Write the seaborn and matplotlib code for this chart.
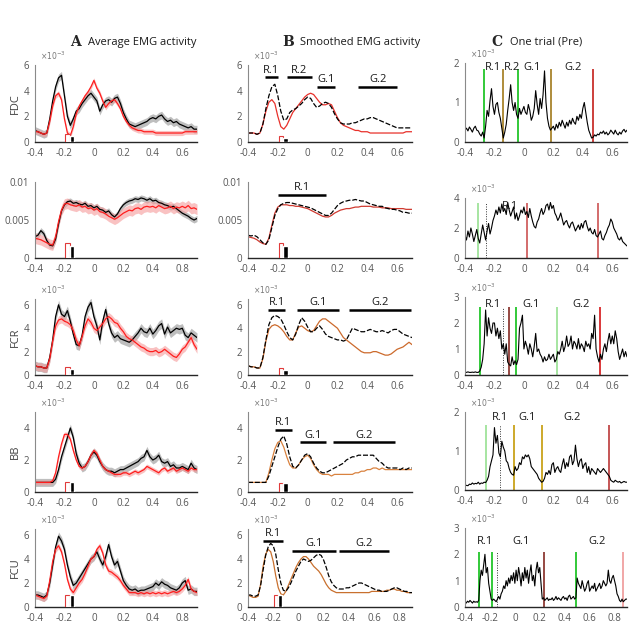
import numpy as np
import seaborn as sns
import matplotlib.pyplot as plt

sns.set_style("white")
plt.rcParams['font.family'] = ['Open Sans', 'DejaVu Sans']

# time grids (s) of the sampled traces
t_avg = np.round(np.arange(-0.40, 0.701, 0.02), 2)      # 56 samples
t_avg_long = np.round(np.arange(-0.40, 0.901, 0.02), 2)  # 66 samples
t_trial = np.round(np.arange(-0.40, 0.701, 0.01), 2)     # 111 samples
t_trial_long = np.round(np.arange(-0.40, 0.901, 0.01), 2)  # 131 samples

muscles = ["FDC", "ECR", "FCR", "BB", "FCU"]
ylabels_shown = ["FDC", "", "FCR", "BB", "FCU"]

# ---------------- A: average EMG (x1e-3), black = pre, red = post ----------------
fdc_black = [0.9, 0.8, 0.7, 0.6, 0.7, 1.8, 3.2, 4.3, 5.0, 5.2,
             3.6, 2.0, 1.3, 1.8, 2.4, 2.6, 3.0, 3.3, 3.6, 3.8,
             3.5, 3.2, 2.4, 2.9, 3.2, 3.3, 3.1, 3.4, 3.5, 3.0,
             2.3, 1.8, 1.4, 1.3, 1.2, 1.3, 1.4, 1.5, 1.6, 1.8,
             1.9, 1.8, 2.0, 2.1, 1.8, 1.6, 1.7, 1.5, 1.6, 1.4,
             1.3, 1.2, 1.1, 1.2, 1.0, 1.0]
fdc_red = [0.8, 0.8, 0.7, 0.6, 0.7, 1.6, 2.8, 3.6, 3.8, 3.3,
           1.8, 0.7, 0.5, 1.2, 2.2, 2.8, 3.2, 3.6, 3.9, 4.3,
           4.8, 4.2, 3.8, 3.2, 2.7, 3.0, 3.2, 3.3, 3.0, 2.6,
           2.0, 1.6, 1.3, 1.1, 1.0, 0.9, 0.9, 0.8, 0.8, 0.8,
           0.8, 0.7, 0.7, 0.7, 0.7, 0.7, 0.7, 0.7, 0.7, 0.7,
           0.7, 0.8, 0.8, 0.8, 0.8, 0.8]
ecr_black = [2.8, 3.0, 3.6, 3.2, 2.3, 1.7, 1.6, 2.5, 4.5, 6.2,
             7.0, 7.4, 7.5, 7.2, 7.3, 7.1, 7.0, 7.2, 6.8, 6.9,
             6.6, 6.8, 6.4, 6.3, 6.0, 6.2, 5.7, 5.4, 5.8, 6.5,
             7.0, 7.3, 7.5, 7.6, 7.8, 7.7, 7.9, 7.8, 7.6, 7.8,
             7.5, 7.6, 7.3, 7.2, 7.0, 6.9, 6.7, 6.8, 6.5, 6.2,
             5.9, 5.7, 5.5, 5.2, 5.0, 5.2]
ecr_red = [2.6, 2.5, 2.4, 2.2, 2.0, 1.8, 1.7, 2.8, 4.8, 6.3,
           7.1, 7.2, 7.0, 6.9, 6.8, 7.0, 6.7, 6.8, 6.5, 6.6,
           6.3, 6.5, 6.1, 6.0, 5.8, 5.5, 5.3, 5.1, 5.3, 5.6,
           5.9, 6.1, 6.3, 6.2, 6.5, 6.6, 6.4, 6.7, 6.8, 6.7,
           6.8, 6.6, 6.9, 6.7, 6.5, 6.6, 6.8, 6.5, 6.7, 6.6,
           6.8, 6.6, 6.9, 6.5, 6.6, 6.4]
fcr_black = [0.8, 0.7, 0.7, 0.6, 0.6, 1.5, 3.0, 5.0, 6.0, 5.2,
             5.0, 5.5, 4.6, 3.5, 2.6, 2.5, 3.4, 5.0, 5.8, 6.2,
             5.0, 4.2, 3.0, 4.6, 5.6, 4.4, 3.6, 3.2, 3.4, 3.1,
             3.0, 2.9, 2.8, 3.0, 3.3, 3.6, 4.0, 3.7, 3.6, 4.0,
             3.5, 3.8, 4.2, 4.4, 3.5, 4.1, 3.6, 3.8, 4.0, 3.9,
             4.0, 3.4, 3.2, 3.6, 3.4, 3.2]
fcr_red = [0.8, 0.7, 0.7, 0.6, 0.6, 1.4, 2.9, 4.2, 4.7, 4.8,
           4.6, 4.5, 4.3, 3.8, 3.0, 2.5, 3.3, 4.2, 4.8, 4.5,
           4.0, 3.8, 4.1, 4.4, 4.8, 5.0, 4.8, 4.5, 4.4, 4.0,
           3.7, 3.3, 3.1, 3.0, 2.8, 2.6, 2.4, 2.3, 2.1, 2.0,
           2.0, 2.1, 1.9, 2.0, 2.2, 2.0, 1.8, 1.6, 1.5, 1.8,
           2.2, 2.4, 2.8, 3.2, 2.6, 2.2]
bb_black = [0.6, 0.6, 0.6, 0.6, 0.6, 0.6, 0.6, 0.8, 1.4, 2.2,
            2.8, 3.4, 4.0, 3.4, 2.4, 1.8, 1.5, 1.6, 1.9, 2.3,
            2.5, 2.3, 1.9, 1.6, 1.4, 1.3, 1.3, 1.2, 1.3, 1.4,
            1.4, 1.5, 1.6, 1.7, 1.8, 1.9, 2.1, 2.2, 2.6, 2.2,
            2.0, 2.1, 2.3, 1.9, 1.8, 1.9, 1.6, 1.7, 1.5, 1.5,
            1.6, 1.5, 1.4, 1.8, 1.5, 1.4]
bb_red = [0.6, 0.6, 0.6, 0.6, 0.6, 0.6, 0.7, 1.2, 2.2, 3.0,
          3.6, 3.6, 3.3, 2.6, 2.0, 1.6, 1.5, 1.6, 1.9, 2.3,
          2.6, 2.4, 2.0, 1.6, 1.4, 1.3, 1.2, 1.1, 1.1, 1.1,
          1.2, 1.2, 1.1, 1.2, 1.3, 1.2, 1.3, 1.4, 1.6, 1.5,
          1.4, 1.3, 1.2, 1.4, 1.5, 1.3, 1.4, 1.5, 1.3, 1.4,
          1.5, 1.4, 1.3, 1.5, 1.4, 1.4]
fcu_black = [1.0, 1.0, 0.9, 0.8, 1.0, 2.0, 3.5, 5.0, 5.9, 5.5,
             4.8, 3.5, 2.5, 1.8, 2.0, 2.4, 2.8, 3.2, 3.6, 4.0,
             4.2, 4.6, 4.0, 3.5, 4.2, 5.2, 4.2, 3.5, 3.8, 3.0,
             2.2, 1.8, 1.5, 1.4, 1.5, 1.3, 1.4, 1.4, 1.5, 1.6,
             1.7, 2.0, 1.8, 2.1, 1.9, 1.8, 1.6, 1.5, 1.4, 1.6,
             2.0, 2.2, 1.4, 1.5, 1.3, 1.3]
fcu_red = [1.0, 0.9, 0.8, 0.7, 0.9, 2.2, 3.8, 4.8, 5.1, 4.6,
           3.6, 2.3, 1.5, 1.2, 1.6, 2.0, 2.3, 2.8, 3.4, 4.0,
           4.2, 4.8, 5.1, 4.5, 3.5, 3.0, 2.9, 2.7, 2.5, 2.2,
           1.8, 1.5, 1.2, 1.2, 1.2, 1.1, 1.2, 1.1, 1.2, 1.1,
           1.2, 1.1, 1.2, 1.1, 1.2, 1.1, 1.2, 1.3, 1.2, 1.3,
           1.5, 1.8, 2.3, 1.5, 1.3, 1.2]
avg_black = [fdc_black, ecr_black, fcr_black, bb_black, fcu_black]
avg_red = [fdc_red, ecr_red, fcr_red, bb_red, fcu_red]
sem_black = [0.3, 0.4, 0.4, 0.25, 0.35]
sem_red = [0.2, 0.7, 0.35, 0.15, 0.25]

# reaction-time markers (s) and their heights for A and B
rt_times = [-0.195, -0.163]
rt_height_a = [(0.6, 0.5), (2.0, 1.6), (0.7, 0.5), (0.6, 0.6), (1.0, 1.0)]
rt_height_b = [(0.45, 0.35), (2.0, 1.6), (0.6, 0.4), (0.56, 0.56), (1.0, 1.0)]

# ---------------- B: smoothed EMG (x1e-3) ----------------
s_fdc_black = [0.7, 0.7, 0.7, 0.6, 0.7, 1.4, 2.6, 3.6, 4.3, 4.5,
               3.6, 2.4, 1.7, 1.8, 2.3, 2.5, 2.6, 2.8, 3.0, 3.3,
               3.5, 3.4, 3.0, 2.7, 2.8, 3.0, 3.1, 3.0, 2.7, 2.2,
               1.8, 1.5, 1.4, 1.4, 1.4, 1.5, 1.5, 1.6, 1.7, 1.8,
               1.8, 1.9, 1.9, 1.8, 1.7, 1.6, 1.5, 1.4, 1.3, 1.2,
               1.1, 1.1, 1.1, 1.1, 1.1, 1.1]
s_fdc_red = [0.7, 0.7, 0.7, 0.6, 0.7, 1.4, 2.4, 3.1, 3.3, 3.0,
             2.0, 1.2, 1.0, 1.3, 1.8, 2.3, 2.6, 2.9, 3.2, 3.5,
             3.7, 3.8, 3.7, 3.4, 3.1, 2.9, 2.9, 3.0, 2.9, 2.4,
             1.9, 1.5, 1.3, 1.2, 1.1, 1.0, 0.9, 0.9, 0.8, 0.8,
             0.8, 0.7, 0.7, 0.7, 0.7, 0.7, 0.7, 0.7, 0.7, 0.7,
             0.7, 0.7, 0.7, 0.8, 0.8, 0.8]
s_ecr_black = [3.0, 2.9, 3.0, 2.8, 2.4, 2.0, 1.8, 2.4, 4.0, 5.6,
               6.5, 7.0, 7.2, 7.3, 7.3, 7.2, 7.1, 7.0, 6.9, 6.8,
               6.7, 6.6, 6.4, 6.2, 6.0, 5.8, 5.6, 5.6, 5.9, 6.4,
               6.9, 7.2, 7.4, 7.5, 7.6, 7.6, 7.7, 7.6, 7.5, 7.5,
               7.3, 7.1, 7.0, 6.9, 6.8, 6.8, 6.6, 6.5, 6.4, 6.4,
               6.3, 6.2, 6.0, 6.0, 5.9, 5.9]
s_ecr_red = [2.8, 2.7, 2.6, 2.4, 2.1, 1.9, 1.8, 2.6, 4.3, 5.9,
             6.7, 7.0, 7.0, 7.0, 6.9, 6.9, 6.8, 6.8, 6.7, 6.6,
             6.5, 6.3, 6.1, 5.9, 5.7, 5.5, 5.4, 5.4, 5.6, 5.9,
             6.1, 6.3, 6.4, 6.5, 6.5, 6.6, 6.7, 6.7, 6.8, 6.8,
             6.8, 6.8, 6.7, 6.7, 6.7, 6.6, 6.6, 6.6, 6.5, 6.5,
             6.5, 6.5, 6.5, 6.4, 6.4, 6.4]
s_fcr_black = [0.8, 0.7, 0.7, 0.6, 0.6, 1.5, 3.0, 4.3, 4.9, 5.1,
               5.0, 4.8, 4.3, 3.7, 3.2, 3.0, 3.5, 4.3, 4.9, 4.6,
               4.1, 3.7, 3.7, 4.0, 4.2, 3.9, 3.5, 3.3, 3.2, 3.1,
               3.0, 3.0, 2.9, 3.0, 3.5, 4.0, 3.9, 3.8, 3.7, 3.7,
               3.8, 3.9, 3.8, 3.7, 3.7, 3.8, 3.7, 3.6, 3.8, 3.9,
               3.9, 3.7, 3.5, 3.4, 3.3, 3.2]
s_fcr_red = [0.8, 0.7, 0.7, 0.6, 0.6, 1.4, 2.9, 3.9, 4.2, 4.3,
             4.2, 4.0, 3.7, 3.3, 3.0, 3.0, 3.6, 4.1, 4.2, 4.0,
             3.8, 3.7, 3.8, 4.2, 4.6, 4.8, 4.8, 4.6, 4.4, 4.2,
             4.0, 3.6, 3.2, 3.0, 2.8, 2.6, 2.4, 2.2, 2.0, 1.9,
             1.9, 1.9, 2.0, 2.0, 1.9, 1.8, 1.7, 1.7, 1.8, 2.0,
             2.2, 2.3, 2.4, 2.6, 2.8, 2.6]
s_bb_black = [0.6, 0.6, 0.6, 0.6, 0.6, 0.6, 0.6, 1.0, 1.6, 2.2,
              2.8, 3.3, 3.5, 3.0, 2.2, 1.6, 1.5, 1.7, 2.0, 2.3,
              2.4, 2.2, 1.8, 1.5, 1.3, 1.2, 1.2, 1.3, 1.4, 1.5,
              1.6, 1.7, 1.8, 2.0, 2.1, 2.2, 2.2, 2.3, 2.3, 2.3,
              2.3, 2.3, 2.3, 2.1, 1.9, 1.8, 1.6, 1.5, 1.5, 1.5,
              1.5, 1.4, 1.5, 1.4, 1.5, 1.5]
s_bb_red = [0.6, 0.6, 0.6, 0.6, 0.6, 0.6, 0.6, 1.2, 2.0, 2.7,
            3.1, 3.2, 2.8, 2.2, 1.7, 1.5, 1.5, 1.7, 2.0, 2.2,
            2.3, 2.1, 1.7, 1.4, 1.2, 1.1, 1.1, 1.1, 1.0, 1.1,
            1.1, 1.1, 1.1, 1.1, 1.1, 1.1, 1.2, 1.2, 1.3, 1.3,
            1.4, 1.4, 1.5, 1.5, 1.4, 1.5, 1.4, 1.4, 1.4, 1.4,
            1.4, 1.4, 1.4, 1.4, 1.4, 1.4]
s_fcu_black = [1.0, 1.0, 0.9, 0.9, 1.0, 1.8, 3.1, 4.3, 5.0, 5.3,
               5.1, 4.4, 3.1, 2.0, 1.4, 1.3, 1.6, 2.0, 2.5, 3.0,
               3.4, 3.8, 4.0, 3.9, 3.8, 3.9, 4.1, 4.3, 4.4, 4.3,
               3.9, 3.3, 2.6, 2.1, 1.8, 1.6, 1.5, 1.5, 1.5, 1.6,
               1.6, 1.7, 1.8, 1.9, 2.0, 2.0, 1.9, 1.8, 1.7, 1.6,
               1.5, 1.4, 1.4, 1.3, 1.3, 1.3, 1.4, 1.5, 1.6, 1.6,
               1.5, 1.4, 1.3, 1.3, 1.2, 1.2]
s_fcu_red = [1.0, 0.9, 0.8, 0.8, 0.9, 1.9, 3.4, 4.4, 4.8, 4.6,
             3.8, 2.6, 1.6, 1.1, 1.0, 1.3, 1.8, 2.3, 2.8, 3.3,
             3.7, 4.0, 4.2, 4.2, 4.0, 3.7, 3.4, 3.2, 3.0, 2.7,
             2.3, 1.9, 1.6, 1.4, 1.3, 1.2, 1.2, 1.2, 1.2, 1.2,
             1.2, 1.2, 1.2, 1.2, 1.2, 1.2, 1.2, 1.2, 1.2, 1.3,
             1.3, 1.3, 1.3, 1.3, 1.3, 1.4, 1.4, 1.5, 1.5, 1.4,
             1.4, 1.3, 1.3, 1.2, 1.2, 1.2]
smooth_black = [s_fdc_black, s_ecr_black, s_fcr_black, s_bb_black, s_fcu_black]
smooth_red = [s_fdc_red, s_ecr_red, s_fcr_red, s_bb_red, s_fcu_red]
smooth_red_colors = ["#e8312b", "#d03a30", "#cc6a2c", "#d9823f", "#c8702e"]

# epoch bars of B: (label, start, end, level)
epochs_b = [
    [("R.1", -0.285, -0.20, 5.05), ("R.2", -0.14, 0.03, 5.05),
     ("G.1", 0.063, 0.185, 4.3), ("G.2", 0.34, 0.60, 4.3)],
    [("R.1", -0.20, 0.12, 8.3)],
    [("R.1", -0.265, -0.15, 5.6), ("G.1", -0.07, 0.21, 5.6), ("G.2", 0.275, 0.69, 5.6)],
    [("R.1", -0.22, -0.105, 3.9), ("G.1", -0.05, 0.125, 3.1), ("G.2", 0.17, 0.585, 3.1)],
    [("R.1", -0.28, -0.12, 5.5), ("G.1", -0.05, 0.30, 4.7), ("G.2", 0.32, 0.72, 4.7)],
]

# ---------------- C: one trial (x1e-3) ----------------
trial_fdc = [0.30, 0.35, 0.28, 0.38, 0.32, 0.25, 0.35, 0.40, 0.30, 0.28,
             0.20, 0.15, 0.25, 0.10, 0.40, 0.80, 0.65, 1.05, 1.35, 0.90,
             0.70, 0.95, 1.00, 0.75, 0.60, 0.35, 0.10, 0.25, 0.45, 0.80,
             1.10, 1.45, 1.00, 0.80, 1.00, 0.70, 0.60, 0.85, 0.70, 0.80,
             0.90, 0.75, 0.70, 0.95, 0.80, 0.55, 0.65, 0.85, 1.30, 0.95,
             0.70, 1.10, 0.85, 1.20, 1.80, 1.00, 0.60, 0.40, 0.30, 0.35,
             0.40, 0.30, 0.45, 0.35, 0.50, 0.40, 0.55, 0.45, 0.35, 0.50,
             0.40, 0.55, 0.45, 0.60, 0.50, 0.45, 0.65, 0.55, 0.70, 0.60,
             0.85, 1.00, 0.75, 0.50, 0.30, 0.20, 0.10, 0.12, 0.18, 0.15,
             0.20, 0.18, 0.25, 0.22, 0.28, 0.20, 0.25, 0.18, 0.22, 0.30,
             0.25, 0.20, 0.30, 0.22, 0.18, 0.25, 0.20, 0.28, 0.32, 0.25,
             0.30]
trial_ecr = [1.5, 1.2, 1.8, 1.4, 2.0, 1.6, 1.1, 1.5, 1.9, 1.3,
             1.0, 1.6, 2.2, 1.7, 1.2, 1.8, 2.3, 1.6, 2.0, 2.5,
             2.8, 3.2, 2.9, 3.4, 3.0, 3.6, 3.1, 3.3, 2.9, 3.7,
             3.2, 2.8, 3.1, 3.4, 2.6, 3.0, 2.5, 2.8, 3.2, 3.0,
             3.4, 2.9, 3.1, 2.7, 3.3, 2.8, 2.4, 2.1, 2.0, 2.4,
             2.6, 3.0, 3.3, 2.9, 3.1, 3.5, 3.6, 3.2, 3.7, 3.3,
             3.5, 3.0, 2.8, 2.5, 2.7, 3.0, 2.6, 2.2, 2.4, 2.5,
             2.2, 2.0, 2.3, 2.4, 2.1, 1.8, 2.0, 2.2, 1.9, 2.3,
             2.0, 2.4, 2.5, 2.1, 1.8, 2.0, 1.7, 1.6, 1.9, 1.5,
             1.4, 1.6, 1.8, 1.3, 1.2, 1.5, 1.7, 2.0, 2.2, 2.6,
             2.4, 2.0, 1.8, 1.6, 1.3, 1.2, 1.4, 1.1, 1.0, 0.9,
             0.8]
trial_fcr = [0.10, 0.10, 0.12, 0.10, 0.10, 0.11, 0.10, 0.12, 0.10, 0.10,
             0.15, 0.30, 0.60, 1.20, 2.50, 1.50, 2.20, 1.80, 1.60, 2.00,
             2.00, 1.50, 1.80, 1.40, 1.70, 1.00, 1.20, 0.80, 1.20, 0.50,
             0.40, 0.35, 0.70, 0.40, 0.55, 0.40, 0.60, 1.80, 2.00, 2.30,
             1.00, 1.30, 1.10, 0.80, 1.20, 1.00, 0.70, 1.10, 1.60, 0.90,
             1.00, 0.80, 0.70, 0.50, 0.70, 0.55, 0.60, 0.80, 0.60, 0.70,
             0.80, 0.50, 0.60, 0.90, 0.80, 1.00, 1.30, 0.90, 1.10, 1.50,
             1.10, 1.20, 1.50, 1.00, 1.30, 1.20, 1.00, 1.40, 1.00, 1.20,
             1.10, 0.90, 1.30, 1.10, 1.20, 1.00, 1.60, 1.40, 2.30, 1.00,
             0.70, 0.50, 0.80, 0.60, 1.00, 1.20, 0.90, 1.30, 1.60, 1.20,
             1.50, 1.20, 1.70, 1.40, 0.90, 0.60, 0.80, 1.00, 0.70, 0.90,
             0.70]
trial_bb = [0.10, 0.12, 0.11, 0.15, 0.14, 0.18, 0.15, 0.17, 0.16, 0.20,
            0.15, 0.18, 0.17, 0.20, 0.19, 0.25, 0.35, 0.60, 0.75, 0.90,
            1.60, 1.20, 1.40, 0.95, 0.85, 1.25, 1.10, 1.00, 0.75, 0.70,
            0.55, 0.45, 0.40, 0.38, 0.60, 0.50, 0.55, 0.70, 0.65, 0.85,
            0.80, 0.90, 0.85, 0.90, 0.80, 0.60, 0.55, 0.50, 0.45, 0.40,
            0.30, 0.25, 0.20, 0.22, 0.30, 0.45, 0.40, 0.50, 0.40, 0.65,
            0.70, 0.45, 0.55, 0.60, 0.50, 0.45, 0.65, 0.80, 0.55, 0.70,
            0.60, 0.85, 0.90, 0.65, 0.75, 1.15, 0.80, 0.60, 0.75, 0.80,
            0.55, 0.65, 0.70, 0.45, 0.60, 0.40, 0.55, 0.50, 0.45, 0.40,
            0.55, 0.50, 0.45, 0.50, 0.55, 0.50, 0.45, 0.40, 0.35, 0.25,
            0.22, 0.20, 0.25, 0.22, 0.20, 0.22, 0.18, 0.20, 0.22, 0.20,
            0.20]
trial_fcu = [0.20, 0.15, 0.22, 0.18, 0.25, 0.20, 0.15, 0.22, 0.18, 0.20,
             0.18, 0.25, 1.00, 1.40, 1.20, 1.60, 2.00, 1.30, 1.50, 0.90,
             0.60, 0.30, 0.25, 0.30, 0.25, 0.20, 0.30, 0.40, 0.30, 0.50,
             0.60, 0.80, 0.70, 1.00, 0.80, 1.10, 0.90, 1.20, 1.00, 1.30,
             0.90, 1.40, 1.00, 1.50, 1.20, 0.80, 1.30, 1.00, 1.50, 1.10,
             1.40, 0.90, 1.30, 1.60, 1.00, 1.20, 0.80, 1.40, 1.70, 1.30,
             1.50, 0.90, 0.30, 0.35, 0.25, 0.30, 0.35, 0.25, 0.30, 0.28,
             0.35, 0.25, 0.30, 0.40, 0.28, 0.35, 0.30, 0.25, 0.35, 0.40,
             0.30, 0.35, 0.25, 0.40, 0.45, 0.30, 0.35, 0.40, 0.30, 0.35,
             1.10, 0.90, 0.80, 0.70, 1.00, 0.80, 0.60, 0.70, 0.90, 1.00,
             0.60, 0.70, 0.80, 0.70, 0.90, 0.60, 0.70, 0.80, 0.90, 0.70,
             0.80, 1.00, 0.90, 0.80, 0.90, 1.40, 1.00, 0.90, 1.10, 1.20,
             1.00, 0.80, 0.50, 0.40, 0.25, 0.20, 0.30, 0.20, 0.25, 0.30,
             0.30]
trials = [trial_fdc, trial_ecr, trial_fcr, trial_bb, trial_fcu]

GREEN, LGREEN, BROWN, GOLD = "#22c52a", "#9fe39a", "#a8842c", "#c9a21a"
RED, DRED, LRED, DOT = "#c8302c", "#8e3a34", "#f0a0a0", "dotted"
# onset/offset markers of C: (time, colour)
markers_c = [
    [(-0.27, GREEN), (-0.14, BROWN), (-0.04, GREEN), (0.185, BROWN), (0.47, RED)],
    [(-0.31, LGREEN), (-0.26, DOT), (0.02, "#d06060"), (0.50, "#d06060")],
    [(-0.30, GREEN), (-0.14, DOT), (-0.10, DRED), (-0.055, GREEN), (0.225, LGREEN), (0.515, "#d8282a")],
    [(-0.256, LGREEN), (-0.16, DOT), (-0.07, GOLD), (0.125, GOLD), (0.575, "#c04848")],
    [(-0.29, GREEN), (-0.18, GREEN), (-0.14, DOT), (0.23, DRED), (0.49, GREEN), (0.87, LRED)],
]
marker_top_c = [1.85, 3.7, 2.6, 1.67, 2.07]
labels_c = [
    [("R.1", -0.21), ("R.2", -0.08), ("G.1", 0.056), ("G.2", 0.335)],
    [("R.1", -0.094)],
    [("R.1", -0.21), ("G.1", 0.05), ("G.2", 0.39)],
    [("R.1", -0.16), ("G.1", 0.02), ("G.2", 0.33)],
    [("R.1", -0.24), ("G.1", 0.047), ("G.2", 0.66)],
]
label_level_c = [1.88, 3.45, 2.72, 1.85, 2.5]

# axis settings
xt_std = [-0.4, -0.2, 0, 0.2, 0.4, 0.6]
xtl_std = ["-0.4", "-0.2", "0", "0.2", "0.4", "0.6"]
xtl_odd = ["-0.4", "-0.2", "0", "0.2", "0.4", "0.8"]
xt_long = [-0.4, -0.2, 0, 0.2, 0.4, 0.6, 0.8]
xtl_long = ["-0.4", "-0.2", "0", "0.2", "0.4", "0.6", "0.8"]
ylim_ab = [6, 10, 6.5, 5, 6.5]
yt_ab = [[0, 2, 4, 6], [0, 5, 10], [0, 2, 4, 6], [0, 2, 4], [0, 2, 4, 6]]
ylim_c = [2, 4, 3, 2, 3]
yt_c = [[0, 1, 2], [0, 2, 4], [0, 1, 2, 3], [0, 1, 2], [0, 1, 2, 3]]

# layout (pixels of a 633 x 644 figure)
W, H = 633, 644
col_x = [(35, 197), (248, 412), (465, 627)]
rows_ab = [(65, 142), (182, 258), (299, 375), (412, 492), (529, 607)]
rows_c = [(63, 142), (198, 258), (297, 375), (412, 490), (528, 607)]


def make_ax(fig, col, row_px):
    x0, x1 = col_x[col]
    y0, y1 = row_px
    return fig.add_axes([x0 / W, 1 - y1 / H, (x1 - x0) / W, (y1 - y0) / H])


def style(ax, xlim, xt, xtl, ylim, yt, ytl, offset=True):
    ax.set_xlim(xlim)
    ax.set_ylim(0, ylim)
    ax.set_xticks(xt)
    ax.set_xticklabels(xtl)
    ax.set_yticks(yt)
    ax.set_yticklabels(ytl)
    ax.set_xlabel("")
    ax.set_ylabel("")
    for s in ["top", "right"]:
        ax.spines[s].set_visible(False)
    ax.spines["left"].set_color("#8a8a8a")
    ax.spines["left"].set_linewidth(0.8)
    ax.spines["bottom"].set_color("#262626")
    ax.spines["bottom"].set_linewidth(1.0)
    ax.tick_params(direction="in", length=2.5, width=0.6, labelsize=7,
                   colors="#555555")
    ax.tick_params(axis="x", pad=4)
    ax.tick_params(axis="y", pad=4)
    if offset:
        ax.annotate(r"$\times10^{-3}$", (0.03, 1.0), xycoords="axes fraction",
                    xytext=(0, 2), textcoords="offset points",
                    fontsize=5.5, color="#777777", ha="left", va="bottom")


def rt_marks(ax, heights):
    h_red, h_black = heights
    ax.bar([rt_times[0]], [h_red], width=0.03, align="edge", facecolor="white",
           edgecolor="#e03a3a", linewidth=0.8, zorder=5)
    ax.bar([rt_times[1]], [h_black], width=0.03, align="edge", color="black", zorder=5)


fig = plt.figure(figsize=(W / 100, H / 100), dpi=100)

for r in range(5):
    long_b = r == 4
    ecr = r == 1
    ytl = ["0", "0.005", "0.01"] if ecr else [str(v) for v in yt_ab[r]]

    # ---- A ----
    ax = make_ax(fig, 0, rows_ab[r])
    b = np.array(avg_black[r])
    rr = np.array(avg_red[r])
    ax.fill_between(t_avg, b - sem_black[r], b + sem_black[r], color="#a9a9a9", alpha=0.75, lw=0)
    sns.lineplot(x=t_avg, y=b, color="black", lw=0.9, ax=ax)
    ax.fill_between(t_avg, rr - sem_red[r], rr + sem_red[r], color="#f59a9a", alpha=0.6, lw=0)
    sns.lineplot(x=t_avg, y=rr, color="#ff1e1e", lw=0.9, ax=ax)
    rt_marks(ax, rt_height_a[r])
    xtl = xtl_odd if r in (1, 4) else xtl_std
    style(ax, (-0.4, 0.7), xt_std, xtl, ylim_ab[r], yt_ab[r], ytl, offset=not ecr)
    if ylabels_shown[r]:
        fig.text(15 / W, 1 - (rows_ab[r][0] + rows_ab[r][1]) / 2 / H, ylabels_shown[r],
                 rotation=90, fontsize=8, color="#404040", ha="center", va="center")

    # ---- B ----
    ax = make_ax(fig, 1, rows_ab[r])
    tb = t_avg_long if long_b else t_avg
    sns.lineplot(x=tb, y=smooth_red[r], color=smooth_red_colors[r], lw=0.9, ax=ax)
    sns.lineplot(x=tb, y=smooth_black[r], color="black", lw=0.9, ax=ax,
                 linestyle=(0, (4, 1.5)))
    rt_marks(ax, rt_height_b[r])
    for lab, s0, s1, lev in epochs_b[r]:
        ax.plot([s0, s1], [lev, lev], color="black", lw=1.8, solid_capstyle="butt")
        ax.annotate(lab, ((s0 + s1) / 2, lev), xytext=(0, 1.2), textcoords="offset points",
                    ha="center", va="bottom", fontsize=8, color="#1a1a1a")
    if long_b:
        style(ax, (-0.4, 0.9), xt_long, xtl_long, ylim_ab[r], yt_ab[r], ytl)
    else:
        style(ax, (-0.4, 0.7), xt_std, xtl_std, ylim_ab[r], yt_ab[r], ytl, offset=not ecr)

    # ---- C ----
    ax = make_ax(fig, 2, rows_c[r])
    tc = t_trial_long if long_b else t_trial
    for tm, col in markers_c[r]:
        if col == DOT:
            ax.vlines(tm, 0, marker_top_c[r], color="#333333", lw=0.7, linestyles=(0, (1, 1.5)))
        else:
            ax.vlines(tm, 0, marker_top_c[r], color=col, lw=1.3)
    sns.lineplot(x=tc, y=trials[r], color="black", lw=0.8, ax=ax)
    for lab, tm in labels_c[r]:
        ax.text(tm, label_level_c[r], lab, ha="center", va="center", fontsize=8, color="#1a1a1a")
    if long_b:
        style(ax, (-0.4, 0.9), xt_long, xtl_long, ylim_c[r], yt_c[r], [str(v) for v in yt_c[r]])
    else:
        style(ax, (-0.4, 0.7), xt_std, xtl_std, ylim_c[r], yt_c[r], [str(v) for v in yt_c[r]])

# column headers
hy = 1 - 42 / H
fig.text(75 / W, hy, "A", fontfamily="DejaVu Serif", fontweight="bold", fontsize=10, ha="center", va="center")
fig.text(88 / W, hy, "Average EMG activity", fontsize=8, ha="left", va="center", color="#1a1a1a")
fig.text(288 / W, hy, "B", fontfamily="DejaVu Serif", fontweight="bold", fontsize=10, ha="center", va="center")
fig.text(300 / W, hy, "Smoothed EMG activity", fontsize=8, ha="left", va="center", color="#1a1a1a")
fig.text(497 / W, hy, "C", fontfamily="DejaVu Serif", fontweight="bold", fontsize=10, ha="center", va="center")
fig.text(510 / W, hy, "One trial (Pre)", fontsize=8, ha="left", va="center", color="#1a1a1a")

fig.savefig("out.png", dpi=100)
